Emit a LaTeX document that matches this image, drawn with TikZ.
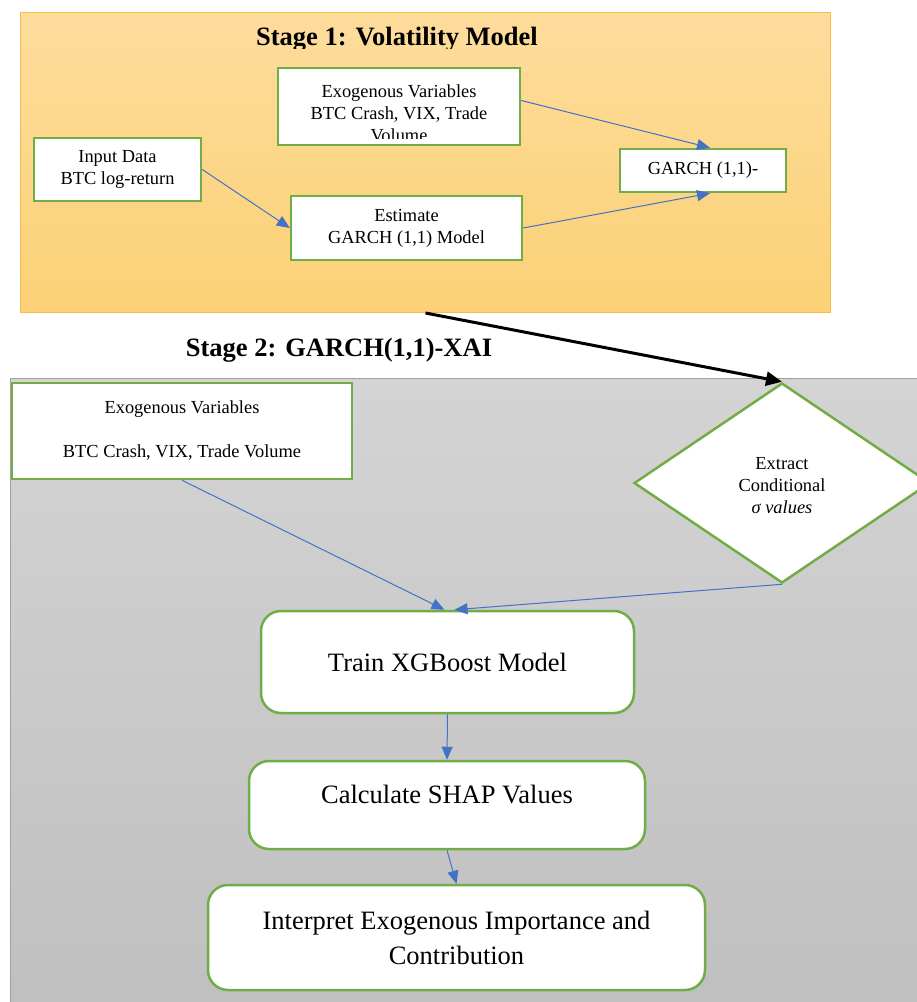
\documentclass[tikz,border=0pt]{standalone}
\usepackage{fontspec}
\setmainfont{Liberation Serif}
\usetikzlibrary{arrows.meta,shapes.geometric}
\definecolor{gborder}{RGB}{112,173,71}
\definecolor{barrow}{RGB}{68,114,196}
\definecolor{s1top}{RGB}{253,220,156}
\definecolor{s1bot}{RGB}{252,209,118}
\definecolor{s1line}{RGB}{245,190,70}
\definecolor{s2top}{RGB}{212,212,212}
\definecolor{s2bot}{RGB}{191,191,191}
\definecolor{s2line}{RGB}{160,160,160}
\tikzset{
  smalltxt/.style={font=\fontsize{18.4}{22}\selectfont},
  bigtxt/.style={font=\fontsize{26.5}{35}\selectfont},
  titletxt/.style={font=\fontsize{26.5}{30}\selectfont\bfseries, inner sep=0pt, anchor=base},
  sqbox/.style={draw=gborder, line width=2.5pt, fill=white, inner sep=0pt, align=center, smalltxt},
  rbox/.style={draw=gborder, line width=2.5pt, fill=white, inner sep=0pt, align=center, rounded corners=20pt, bigtxt},
  flow/.style={draw=barrow, line width=1pt, -{Triangle[length=13pt,width=11pt]}},
  bigflow/.style={draw=black, line width=3pt, -{Triangle[length=16pt,width=14pt]}},
}
\begin{document}
\begin{tikzpicture}[x=1pt,y=-1pt]
\useasboundingbox (0,0) rectangle (917,1002);
\fill[white] (0,0) rectangle (917,1002);
% Stage 1 panel
\node[draw=s1line, line width=1pt, top color=s1top, bottom color=s1bot, minimum width=810pt, minimum height=300pt, inner sep=0pt, anchor=north west] (stage1) at (20,12) {};
\begin{scope}
  \clip (20,12) rectangle (830,48.5);
  \node[titletxt] (title1) at (397,45.5) {Stage 1: Volatility Model};
\end{scope}
% Stage 1 boxes
\node[sqbox, minimum width=242pt, minimum height=77pt] (ex1) at (399,106.5) {};
\begin{scope}
  \clip (280,70) rectangle (518,138);
  \node[smalltxt, align=center, inner sep=0pt] (ex1txt) at (399,113) {Exogenous Variables\\BTC Crash, VIX, Trade\\Volume};
\end{scope}
\node[sqbox, minimum width=167pt, minimum height=63pt] (inp) at (117.5,169.5) {Input Data\\BTC log-return};
\node[sqbox, minimum width=231pt, minimum height=64pt] (est) at (406.5,228) {Estimate\\GARCH (1,1) Model};
\node[sqbox, minimum width=166pt, minimum height=43pt] (garch) at (703,170.5) {GARCH (1,1)-};
\draw[flow] ([yshift=6pt]ex1.east) -- ([xshift=7pt]garch.north);
\draw[flow] (inp.east) -- (est.west);
\draw[flow] (est.east) -- ([xshift=7pt]garch.south);
% Stage 2 panel
\node[draw=s2line, line width=1pt, top color=s2top, bottom color=s2bot, minimum width=920pt, minimum height=640pt, inner sep=0pt, anchor=north west] (stage2) at (10,378) {};
\node[titletxt] (title2) at (339,356) {Stage 2: GARCH(1,1)-XAI};
\node[sqbox, minimum width=340pt, minimum height=96pt] (ex2) at (182,431) {Exogenous Variables\\[22pt]BTC Crash, VIX, Trade Volume};
\node[draw=gborder, line width=2.5pt, fill=white, shape=diamond, aspect=1.48, minimum width=296pt, minimum height=200pt, inner sep=0pt] (diam) at (782,483) {};
\node[smalltxt, align=center, inner sep=0pt] (diamtxt) at (782,486) {Extract\\Conditional\\\textit{σ values}};
\node[rbox, minimum width=373pt, minimum height=102pt] (train) at (447.5,662) {Train XGBoost Model};
\node[rbox, minimum width=396pt, minimum height=88pt] (calc) at (447,805) {};
\node[bigtxt, inner sep=0pt] (calctxt) at (447,794) {Calculate SHAP Values};
\node[rbox, minimum width=497pt, minimum height=105pt] (interp) at (456.5,937.5) {Interpret Exogenous Importance and\\Contribution};
\draw[bigflow] (stage1.south) -- (diam.north);
\draw[flow] (ex2.south) -- ([xshift=-3pt]train.north);
\draw[flow] (diam.south) -- ([xshift=7pt]train.north);
\draw[flow] (train.south) -- (calc.north);
\draw[flow] (calc.south) -- (interp.north);
\end{tikzpicture}
\end{document}
